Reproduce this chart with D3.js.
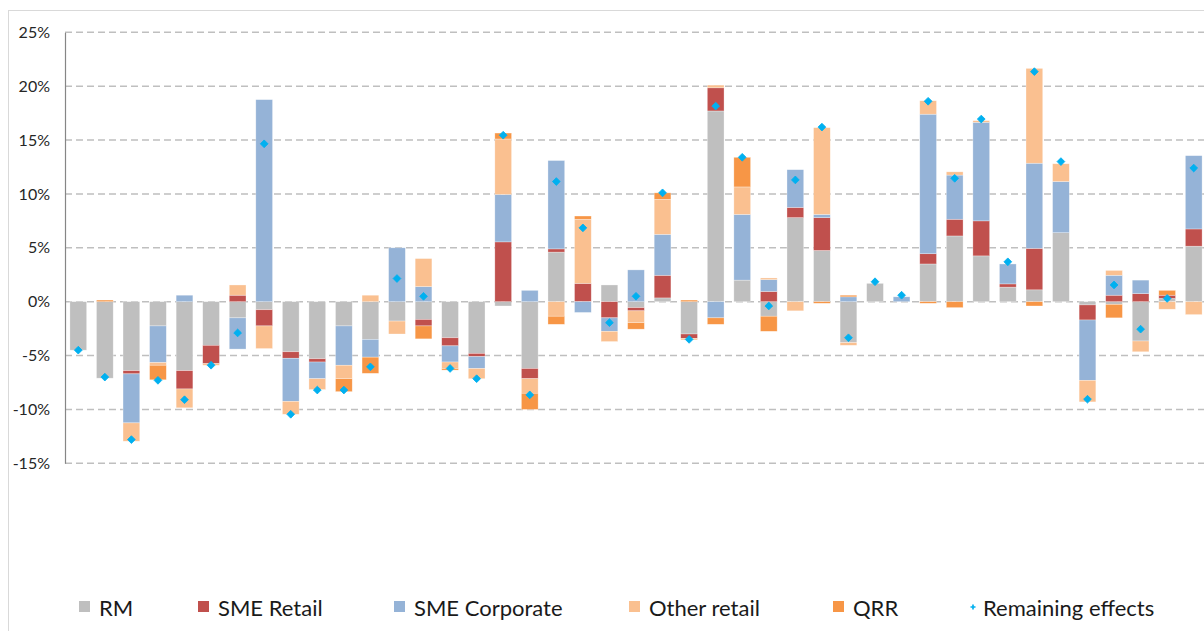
<!DOCTYPE html>
<html>
<head>
<meta charset="utf-8">
<script src="https://cdn.jsdelivr.net/npm/d3@7"></script>
<style>
  body { margin: 0; background: #fff; }
  svg { display: block; font-family: Lato, "Open Sans", sans-serif; }
</style>
</head>
<body>
<svg id="chart" width="1204" height="631"></svg>
<script>
// bank samples, no labels are shown on the axis
const banks = ["1","2","3","4","5","6","7","8","9","10","11","12","13","14","15","16","17","18","19","20","21","22",
  "23","24","25","26","27","28","29","30","31","32","33","34","35","36","37","38","39","40","41","42","43"];

// contributions in %, one entry per bank
const rm         = [-4.5,-7.1,-6.4,-2.25,-6.4,-4.05,-1.5,-0.75,-4.65,-5.3,-2.25,-3.5,-1.8,-1.65,-3.35,-4.8,-0.4,-6.2,4.6,0,1.55,-0.55,
  0.35,-3.0,17.7,2.0,-1.35,7.8,4.75,-3.8,1.7,0,3.5,6.1,4.25,1.35,1.1,6.4,-0.3,-0.25,-3.65,0.3,5.15];
const smeRetail  = [0,0,-0.3,0,-1.7,-1.7,0.6,-1.5,-0.6,-0.3,0,0,0,-0.6,-0.75,-0.3,5.55,-0.95,0.3,1.7,-1.5,-0.3,
  2.1,-0.4,2.15,0,0.95,0.95,3.05,0,0,0,0.95,1.55,3.25,0.3,3.85,0,-1.4,0.6,0.75,0.3,1.6];
const smeCorp    = [0,0,-4.55,-3.4,0.6,0,-2.9,18.75,-4.0,-1.55,-3.65,-1.65,5.0,1.4,-1.5,-1.1,4.4,1.05,8.2,-1.0,-1.25,2.95,
  3.8,0,-1.5,6.1,1.1,3.5,0.3,0.45,0,0.45,12.95,4.1,9.15,1.85,7.9,4.75,-5.6,1.85,1.25,0,6.8];
const otherRet   = [0,0,-1.7,-0.25,-1.75,-0.15,0.95,-2.1,-1.2,-1.0,-1.25,0.6,-1.2,2.6,-0.6,-0.95,5.15,-1.35,-1.35,5.95,-0.95,-1.1,
  3.25,-0.15,0.25,2.55,0.15,-0.85,8.05,-0.25,0,0,1.25,0.3,0.15,0,8.8,1.65,-2.0,0.45,-1.0,-0.7,-1.2];
const qrr        = [0,0.15,0,-1.35,0,0,0,0,0,0,-1.2,-1.5,0,-1.2,-0.15,0,0.55,-1.5,-0.75,0.3,0,-0.6,
  0.6,0.15,-0.6,2.75,-1.4,0,-0.15,0.15,0,0,-0.15,-0.55,0,0,-0.4,0,0,-1.25,0,0.45,0];
const remaining  = [-4.5,-7.0,-12.8,-7.3,-9.1,-5.9,-2.9,14.65,-10.45,-8.2,-8.2,-6.05,2.15,0.5,-6.2,-7.15,15.45,-8.65,11.15,6.85,-1.95,0.5,
  10.1,-3.5,18.15,13.4,-0.4,11.3,16.2,-3.35,1.85,0.6,18.6,11.45,16.95,3.7,21.35,13.0,-9.05,1.55,-2.55,0.3,12.4];

const seriesNames = ["RM", "SME Retail", "SME Corporate", "Other retail", "QRR"];
const seriesValues = [rm, smeRetail, smeCorp, otherRet, qrr];
const seriesColors = ["#BFBFBF", "#C0504D", "#95B3D7", "#FAC090", "#F79646"];
const yTicks = [25, 20, 15, 10, 5, 0, -5, -10, -15];

const svg = d3.select("#chart");

// outer frame of the chart object (runs off the page on the right and bottom)
svg.append("rect")
  .attr("x", 8.5).attr("y", 10.5)
  .attr("width", 1400).attr("height", 800)
  .attr("fill", "#fff").attr("stroke", "#D9D9D9");

const x = d3.scaleBand()
  .domain(banks)
  .range([65, 1207])
  .paddingInner(0.37)
  .paddingOuter(0.185);

const y = d3.scaleLinear().domain([-15, 25]).range([463.3, 32.3]);

// gridlines
svg.append("g")
  .selectAll("line")
  .data(yTicks)
  .join("line")
  .attr("x1", 65).attr("x2", 1204)
  .attr("y1", d => y(d)).attr("y2", d => y(d))
  .attr("stroke", "#BFBFBF")
  .attr("stroke-width", 1.4)
  .attr("stroke-dasharray", "7,4");

// y axis
const yAxis = svg.append("g")
  .attr("transform", "translate(65,0)")
  .call(d3.axisLeft(y).tickValues(yTicks).tickSize(0).tickPadding(15).tickFormat(d => d + "%"));
yAxis.select(".domain").attr("stroke", "#868686").attr("stroke-width", 1.2);
yAxis.selectAll("text")
  .attr("font-size", 16)
  .attr("fill", "#262626")
  .attr("font-family", "Lato, sans-serif");

// stacked bars, positive and negative parts stacked separately like Excel
const table = banks.map((b, i) => {
  const row = { bank: b };
  seriesNames.forEach((s, k) => { row[s] = seriesValues[k][i]; });
  return row;
});
const stacked = d3.stack()
  .keys(seriesNames)
  .offset(d3.stackOffsetDiverging)(table);

svg.append("g")
  .selectAll("g")
  .data(stacked)
  .join("g")
  .attr("fill", (d, k) => seriesColors[k])
  .selectAll("rect")
  .data(d => d)
  .join("rect")
  .attr("x", d => x(d.data.bank))
  .attr("width", x.bandwidth())
  .attr("y", d => y(Math.max(d[0], d[1])))
  .attr("height", d => Math.abs(y(d[0]) - y(d[1])))
  .attr("stroke", "#fff")
  .attr("stroke-opacity", 0.5)
  .attr("stroke-width", 0.6);

// remaining effects markers (small rounded diamonds)
const marker = d3.symbol().type(d3.symbolSquare).size(30);
svg.append("g")
  .selectAll("path")
  .data(remaining)
  .join("path")
  .attr("d", marker)
  .attr("transform", (d, i) => `translate(${x(banks[i]) + x.bandwidth() / 2},${y(d)}) rotate(45)`)
  .attr("fill", "#00B0F0")
  .attr("stroke", "#00B0F0")
  .attr("stroke-width", 0.8)
  .attr("stroke-linejoin", "round");

// legend
const legendX = [79, 198, 394, 629, 833];
const legend = svg.append("g").attr("font-size", 22).attr("fill", "#1a1a1a");
seriesNames.forEach((s, k) => {
  legend.append("rect")
    .attr("x", legendX[k]).attr("y", 601)
    .attr("width", 11).attr("height", 11)
    .attr("fill", seriesColors[k]);
  legend.append("text")
    .attr("x", legendX[k] + 20).attr("y", 607)
    .attr("dominant-baseline", "central")
    .text(s);
});
legend.append("path")
  .attr("d", d3.symbol().type(d3.symbolCross).size(14))
  .attr("transform", "translate(973,607)")
  .attr("fill", "#00B0F0");
legend.append("text")
  .attr("x", 983).attr("y", 607)
  .attr("dominant-baseline", "central")
  .text("Remaining effects");
</script>
</body>
</html>
